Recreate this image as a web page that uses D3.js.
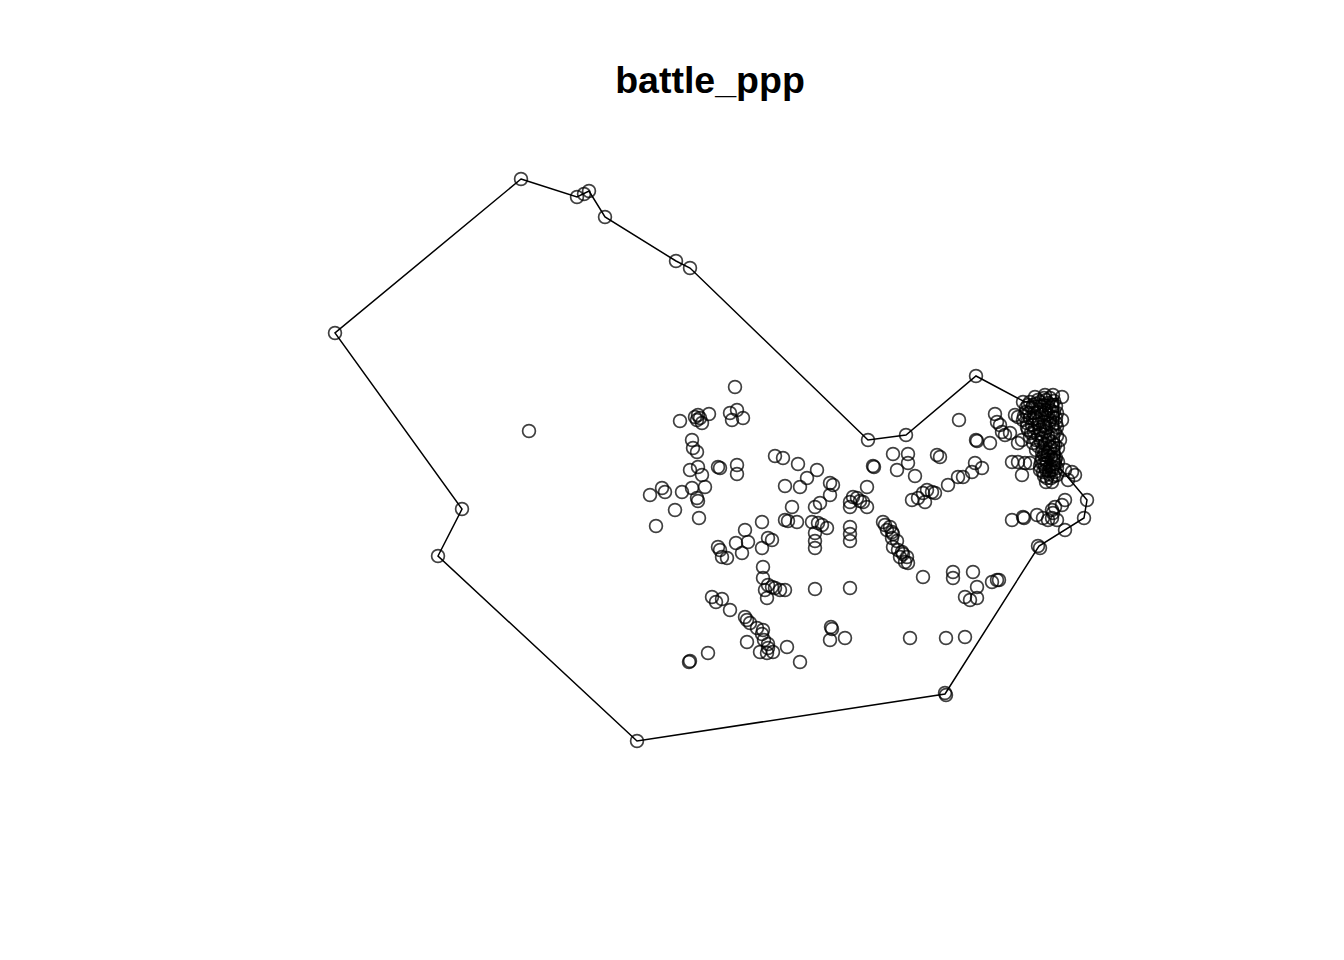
<!DOCTYPE html>
<html><head><meta charset="utf-8">
<script src="https://cdn.jsdelivr.net/npm/d3@7"></script>
<style>html,body{margin:0;padding:0;background:#fff;}svg{display:block;}</style>
</head><body>
<script>
// Title
const title = "battle_ppp";

// Observation window polygon (data units)
const windowVerts = [
  [186,562],[242,544],[254,550],[270,524],[341,480],[355,473],[533,301],[571,306],
  [641,365],[690,339],[723,343],[725,273],[752,241],[749,223],[704,195],[610,47],
  [302,0],[103,185],[127,232],[0,408]
];

// Points on the window boundary and isolated
const hullPts = [
  [186,562],[242,544],[249,547],[254,550],[270,524],[341,480],[355,473],[533,301],
  [571,306],[641,365],[752,241],[749,223],[703,195],[705,193],[610,48],[611,46],
  [302,0],[103,185],[127,232],[0,408],[194,310]
];

// Western group
const westPts = [
  [400,354],[345,320],[360,324],[363,326],[365,323],[362,321],[374,327],[367,318],
  [395,328],[402,331],[397,321],[408,323],[357,301],[358,293],[362,289],[363,274],
  [355,271],[367,266],[370,254],[383,274],[385,273],[402,276],[402,267],[357,253],
  [362,243],[363,240],[315,246],[327,253],[330,249],[347,249],[340,231],[364,223],
  [321,215]
];

// Central group
const centralPts = [
  [440,285],[448,283],[463,277],[482,271],[472,263],[450,255],[465,254],[495,258],
  [498,256],[495,246],[538,275],[539,274],[532,254],[518,244],[522,243],[525,240],
  [515,239],[528,239],[532,234],[515,234],[457,234],[480,234],[485,238],[450,221],
  [453,220],[462,219],[477,219],[483,218],[487,216],[492,213],[515,214],[515,207],
  [515,200],[480,208],[480,200],[480,193],[427,219],[433,203],[437,201],[410,211],
  [413,199],[401,198],[383,194],[385,191],[387,184],[392,183],[407,188],[427,193],
  [428,174],[428,163],[433,156],[437,154],[440,153],[445,151],[450,151],[430,151],
  [432,143],[480,152],[515,153],[377,144],[381,139],[387,142],[395,131],[410,124],
  [412,121],[415,118],[422,113],[428,111],[427,107],[429,101],[412,99],[433,97],
  [433,93],[425,89],[432,88],[438,89],[452,94],[465,79],[354,79],[355,80],
  [373,88],[496,114],[497,112],[495,101],[510,103]
];

// Eastern group
const eastPts = [
  [558,287],[573,287],[573,278],[562,271],[580,265],[602,286],[605,284],[577,241],
  [583,243],[588,248],[592,251],[597,249],[600,248],[590,239],[613,256],[623,264],
  [628,264],[637,269],[640,278],[647,273],[642,300],[641,301],[655,298],[624,321],
  [660,327],[662,319],[665,316],[667,309],[670,306],[675,308],[683,324],[687,301],
  [683,298],[677,279],[683,279],[690,278],[695,278],[687,266],[677,221],[688,224],
  [689,223],[702,226],[708,223],[713,221],[717,223],[722,221],[730,211],[730,271],
  [737,269],[740,266],[733,261],[730,241],[727,236],[720,234],[717,231],[718,228],
  [548,219],[550,216],[555,214],[557,209],[552,211],[558,207],[557,203],[562,200],
  [558,194],[563,191],[567,189],[568,187],[572,184],[570,179],[573,178],[565,184],
  [588,164],[618,169],[618,163],[638,169],[642,154],[630,144],[635,141],[642,143],
  [657,159],[662,161],[664,161],[575,103],[611,103],[630,104],[680,326]
];

// Dense north-eastern cluster
const clusterPts = [
  [688,339],[700,344],[710,346],[718,346],[727,344],[727,321],[725,301],
  [693,336],[697,333],[701,337],[705,339],[709,336],[713,338],[717,335],[711,331],
  [705,331],[699,328],[695,323],[701,323],[707,326],[713,327],[719,329],[715,321],
  [709,319],[703,317],[697,316],[693,311],[699,309],[705,311],[711,313],[717,315],
  [720,309],[713,305],[707,303],[701,301],[695,304],[710,297],[717,299],[703,295],
  [691,329],[721,323],[722,314],[688,321],[692,318],[709,343],[715,343],[706,307],
  [695,339],[703,341],[711,341],[719,340],[691,333],[698,336],[706,335],[714,333],
  [721,335],[694,328],[702,329],[710,328],[716,330],[722,328],[689,325],[698,322],
  [704,321],[712,323],[718,324],[692,314],[700,313],[708,315],[714,317],[721,318],
  [696,308],[703,306],[710,309],[716,307],[722,305],[698,298],[706,299],[714,301],
  [720,296],[708,293],[701,291],[715,294],
  [710,289],[715,291],[719,287],[713,285],[707,283],[711,281],[717,281],[721,283],
  [709,277],[715,275],[720,277],[705,275],[711,271],[717,271],[722,273],[708,269],
  [714,267],[719,265],[712,263],[723,279],[707,289],[723,293],[717,293],
  [709,286],[716,284],[712,278],[718,274],[706,279],[710,274],[714,270],[720,269],
  [709,265],[716,263],[722,266],[713,289],[720,281],[705,271],[717,259],[711,259]
];

const points = [].concat(hullPts, westPts, centralPts, eastPts, clusterPts);

const W = 1344, H = 960;
const svg = d3.select("body").append("svg").attr("width", W).attr("height", H);

const x = d3.scaleLinear().domain([0, 750]).range([335, 1085]);
const y = d3.scaleLinear().domain([0, 562]).range([741, 179]);

svg.append("text")
  .attr("x", 710).attr("y", 93)
  .attr("text-anchor", "middle")
  .attr("font-family", "'Liberation Sans', Arial, Helvetica, sans-serif")
  .attr("font-weight", "bold")
  .attr("font-size", 37.5)
  .text(title);

const line = d3.line().x(d => x(d[0])).y(d => y(d[1])).curve(d3.curveLinearClosed);
svg.append("path")
  .attr("d", line(windowVerts))
  .attr("fill", "none")
  .attr("stroke", "#000")
  .attr("stroke-width", 1.5);

svg.append("g").selectAll("circle").data(points).join("circle")
  .attr("cx", d => x(d[0]))
  .attr("cy", d => y(d[1]))
  .attr("r", 6.4)
  .attr("fill", "none")
  .attr("stroke", "#000")
  .attr("stroke-opacity", 0.75)
  .attr("stroke-width", 1.7);
</script>
</body></html>
